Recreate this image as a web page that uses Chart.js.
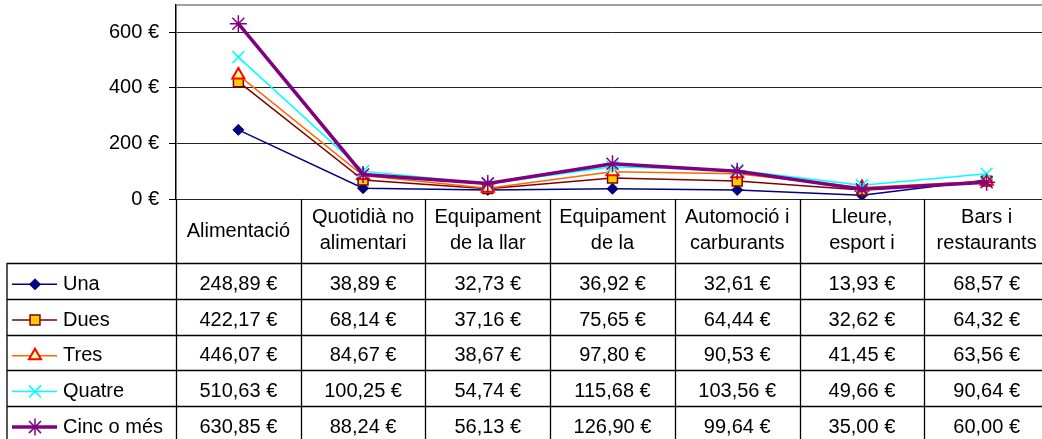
<!DOCTYPE html>
<html>
<head>
<meta charset="utf-8">
<script src="https://cdn.jsdelivr.net/npm/chart.js@4.4.1/dist/chart.umd.min.js"></script>
<style>
  html, body { margin: 0; padding: 0; background: #fff; overflow: hidden; }
  #wrap { position: relative; width: 1042px; height: 439px; overflow: hidden; }
  #box { position: absolute; left: 0; top: -30px; width: 1060px; height: 469px; }
</style>
</head>
<body>
<div id="wrap"><div id="box"><canvas id="c" width="1060" height="469"></canvas></div></div>
<script>
// Despesa per categoria segons el nombre de membres de la llar
const categories = [
  ['Alimentació'],
  ['Quotidià no', 'alimentari'],
  ['Equipament', 'de la llar'],
  ['Equipament', 'de la'],
  ['Automoció i', 'carburants'],
  ['Lleure,', 'esport i'],
  ['Bars i', 'restaurants']
];
const seriesNames = ['Una', 'Dues', 'Tres', 'Quatre', 'Cinc o més'];
const una    = [248.89, 38.89, 32.73, 36.92, 32.61, 13.93, 68.57];
const dues   = [422.17, 68.14, 37.16, 75.65, 64.44, 32.62, 64.32];
const tres   = [446.07, 84.67, 38.67, 97.80, 90.53, 41.45, 63.56];
const quatre = [510.63, 100.25, 54.74, 115.68, 103.56, 49.66, 90.64];
const cinc   = [630.85, 88.24, 56.13, 126.90, 99.64, 35.00, 60.00];
const yTicks = [0, 200, 400, 600];

const FONT = 'Liberation Sans, Arial, sans-serif';
const FS = 20;

const styles = [
  { line: '#000080', width: 1.5, point: 'rectRot', radius: 5.5, fill: '#000080', border: '#000080', bw: 1 },
  { line: '#800000', width: 1.5, point: 'rect', radius: 7, fill: '#FFCC00', border: '#800000', bw: 1.5 },
  { line: '#FF6600', width: 1.5, point: 'triangle', radius: 7, fill: '#FFFF99', border: '#FF0000', bw: 2 },
  { line: '#00FFFF', width: 1.5, point: 'crossRot', radius: 8.5, fill: '#00FFFF', border: '#00FFFF', bw: 1.5 },
  { line: '#800080', width: 3.5, point: 'star', radius: 8.5, fill: '#800080', border: '#800080', bw: 1.5 }
];
const values = [una, dues, tres, quatre, cinc];

const euro = v => v.toFixed(2).replace('.', ',') + ' €';

const datasets = values.map((vals, i) => ({
  label: seriesNames[i],
  data: vals,
  borderColor: styles[i].line,
  borderWidth: styles[i].width,
  pointStyle: styles[i].point,
  pointRadius: styles[i].radius,
  pointBackgroundColor: styles[i].fill,
  pointBorderColor: styles[i].border,
  pointBorderWidth: styles[i].bw,
  tension: 0,
  fill: false,
  order: values.length - i
}));

// Frame of the plot area and data table below it
const tablePlugin = {
  id: 'dataTable',
  beforeDatasetsDraw(chart) {
    const { ctx, chartArea: a } = chart;
    ctx.save();
    ctx.strokeStyle = '#808080';
    ctx.lineWidth = 1.5;
    ctx.beginPath();
    ctx.moveTo(a.left, a.top + 0.5);
    ctx.lineTo(a.right, a.top + 0.5);
    ctx.stroke();
    ctx.restore();
  },
  afterDraw(chart) {
    const { ctx, chartArea: a, scales } = chart;
    const x = scales.x;
    const n = categories.length;
    const colW = (a.right - a.left) / n;
    const headTop = a.bottom;
    const headBot = headTop + 64.3;
    const rowH = 35.7;
    const legendLeft = 6.5;
    const bottom = headBot + rowH * seriesNames.length;

    ctx.save();
    ctx.strokeStyle = '#000';
    ctx.lineWidth = 1.3;
    ctx.beginPath();
    // vertical lines
    for (let i = 0; i <= n; i++) {
      const xv = Math.round(a.left + i * colW) + 0.5;
      ctx.moveTo(xv, headTop);
      ctx.lineTo(xv, bottom);
    }
    ctx.moveTo(legendLeft + 0.5, headBot);
    ctx.lineTo(legendLeft + 0.5, bottom);
    // horizontal lines
    for (let r = 0; r <= seriesNames.length; r++) {
      const yv = Math.round(headBot + r * rowH) + 0.5;
      ctx.moveTo(legendLeft, yv);
      ctx.lineTo(a.right, yv);
    }
    ctx.stroke();

    ctx.fillStyle = '#000';
    ctx.font = FS + 'px ' + FONT;
    ctx.textAlign = 'center';
    ctx.textBaseline = 'alphabetic';
    // header
    categories.forEach((lines, i) => {
      const cx = x.getPixelForValue(i);
      if (lines.length === 1) {
        ctx.fillText(lines[0], cx, headTop + 37.5);
      } else {
        ctx.fillText(lines[0], cx, headTop + 23.5);
        ctx.fillText(lines[1], cx, headTop + 50);
      }
    });
    // rows
    values.forEach((vals, r) => {
      const top = headBot + r * rowH;
      vals.forEach((v, i) => {
        ctx.fillText(euro(v), x.getPixelForValue(i), top + 26.7);
      });
      // legend key
      const s = styles[r];
      const ly = top + 21;
      ctx.strokeStyle = s.line;
      ctx.lineWidth = s.width;
      ctx.beginPath();
      ctx.moveTo(12, ly);
      ctx.lineTo(57, ly);
      ctx.stroke();
      ctx.fillStyle = s.fill;
      ctx.strokeStyle = s.border;
      ctx.lineWidth = s.bw;
      Chart.helpers.drawPoint(ctx, { pointStyle: s.point, radius: s.radius, borderWidth: s.bw }, 35, ly);
      ctx.fillStyle = '#000';
      ctx.textAlign = 'left';
      ctx.fillText(seriesNames[r], 63, top + 26.7);
      ctx.textAlign = 'center';
    });
    ctx.restore();
  }
};

new Chart(document.getElementById('c'), {
  type: 'line',
  data: { labels: categories.map(l => l.join(' ')), datasets },
  options: {
    responsive: false,
    animation: false,
    layout: { padding: { top: 34.5, right: 11, bottom: 240, left: 0 } },
    plugins: { legend: { display: false }, tooltip: { enabled: false }, title: { display: false } },
    scales: {
      x: { display: false, offset: true },
      y: {
        min: 0,
        max: 700,
        afterBuildTicks(scale) { scale.ticks = yTicks.map(v => ({ value: v })); },
        afterFit(scale) { scale.width = 176; },
        grid: { color: '#222', lineWidth: 1, tickLength: 7, tickColor: '#000', drawTicks: true },
        border: { color: '#000', width: 1.5 },
        ticks: {
          padding: 10,
          color: '#000',
          font: { family: FONT, size: FS },
          callback: v => v + ' €'
        }
      }
    }
  },
  plugins: [tablePlugin]
});
</script>
</body>
</html>
